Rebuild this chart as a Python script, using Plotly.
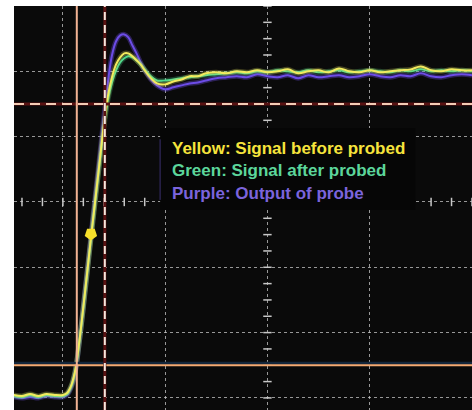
"""Oscilloscope capture: probe loading on a fast step edge (Plotly)."""

import numpy as np
import plotly.graph_objects as go

# time in ns (5 ns / div), amplitude in V (0.2 V / div)
time_ns = [
    -2.4, -2.0, -1.6, -1.2, -0.8, -0.4, 0.0, 0.2, 0.4, 0.6, 0.8, 1.0, 1.2, 1.4,
    1.6, 1.8, 2.0, 2.2, 2.4, 2.6, 2.8, 3.0, 3.2, 3.4, 3.6, 3.8, 4.0, 4.3, 4.6,
    5.0, 5.4, 5.8, 6.2, 6.6, 7.0, 7.5, 8.0, 8.5, 9.0, 9.5, 10.0, 10.5, 11.0,
    11.5, 12.0, 12.5, 13.0, 13.5, 14.0, 14.5, 15.0, 15.5, 16.0, 16.5, 17.0,
    17.5, 18.0, 18.5, 19.0, 19.5, 20.0,
]
before_probed = [  # yellow
    0.009, 0.006, 0.012, 0.006, 0.012, 0.009, 0.009, 0.015, 0.037, 0.083,
    0.171, 0.278, 0.391, 0.505, 0.615, 0.725, 0.835, 0.924, 0.982, 1.021,
    1.043, 1.055, 1.055, 1.046, 1.034, 1.021, 1.003, 0.979, 0.963, 0.960,
    0.969, 0.975, 0.985, 0.985, 0.994, 0.997, 0.994, 1.000, 0.997, 1.003,
    0.997, 1.000, 1.006, 0.994, 1.000, 1.003, 0.997, 1.009, 1.000, 0.997,
    1.003, 0.997, 1.000, 1.003, 1.006, 1.015, 1.003, 1.000, 1.006, 1.003,
    1.003,
]
after_probed = [  # green
    0.006, 0.003, 0.009, 0.003, 0.009, 0.006, 0.006, 0.012, 0.034, 0.080,
    0.168, 0.275, 0.388, 0.502, 0.612, 0.719, 0.826, 0.911, 0.966, 1.003,
    1.027, 1.040, 1.046, 1.043, 1.034, 1.021, 1.006, 0.985, 0.972, 0.972,
    0.975, 0.979, 0.982, 0.985, 0.988, 0.991, 0.994, 0.997, 0.994, 1.000,
    0.997, 1.003, 1.000, 0.997, 1.003, 0.997, 1.000, 1.003, 0.997, 1.000,
    1.003, 1.000, 0.997, 1.003, 1.000, 1.006, 1.000, 1.003, 1.000, 1.003,
    1.000,
]
probe_output = [  # purple
    0.003, 0.000, 0.003, 0.000, 0.006, 0.003, 0.003, 0.009, 0.031, 0.076,
    0.168, 0.281, 0.398, 0.514, 0.630, 0.743, 0.859, 0.966, 1.049, 1.092,
    1.110, 1.113, 1.104, 1.079, 1.055, 1.027, 1.003, 0.975, 0.957, 0.945,
    0.951, 0.957, 0.963, 0.966, 0.972, 0.979, 0.982, 0.985, 0.982, 0.991,
    0.985, 0.982, 0.988, 0.979, 0.988, 0.982, 0.985, 0.988, 0.982, 0.985,
    0.991, 0.985, 0.982, 0.988, 0.985, 0.994, 0.985, 0.982, 0.988, 0.991,
    0.988,
]
trigger_point = (1.37, 0.502)

# rise-time cursors (10 % / 90 %)
level_10, level_90 = 0.1, 0.9
t_10, t_90 = 0.68, 2.05

legend_lines = [
    ("Yellow: Signal before probed", "#f6e43c"),
    ("Green: Signal after probed", "#5cd69b"),
    ("Purple: Output of probe", "#7b64dc"),
]

x_range = [-2.39, 20.0]
y_range = [-0.037, 1.2]

fig = go.Figure()

# centre graticule ticks
h_ticks = np.arange(-2, 20.5, 1.0)
v_ticks = np.arange(0.0, 1.21, 0.05)
fig.add_trace(go.Scatter(
    x=h_ticks, y=[0.6] * len(h_ticks), mode="markers",
    marker=dict(symbol="line-ns", size=6, line=dict(color="#c8c8c8", width=1.5)),
))
fig.add_trace(go.Scatter(
    x=[10.0] * len(v_ticks), y=v_ticks, mode="markers",
    marker=dict(symbol="line-ew", size=6, line=dict(color="#c8c8c8", width=1.5)),
))

# cursors
fig.add_hline(y=level_10 + 0.006, line=dict(color="#13263b", width=3))
fig.add_hline(y=level_10, line=dict(color="#f4aa72", width=2))
fig.add_hline(y=level_90, line=dict(color="#5a1212", width=3))
fig.add_hline(y=level_90, line=dict(color="#f3ccb4", width=2, dash="10px,6px"))
fig.add_vline(x=t_10, line=dict(color="#f2b394", width=2))
fig.add_vline(x=t_90, line=dict(color="#5a1212", width=3))
fig.add_vline(x=t_90, line=dict(color="#f6e6dc", width=2, dash="8px,5px"))

# waveforms
for ys, col, glow in [
    (probe_output, "#6c4ce6", "rgba(108,76,230,0.35)"),
    (after_probed, "#4fd88c", "rgba(79,216,140,0.25)"),
    (before_probed, "#f2ea5e", "rgba(242,234,94,0.25)"),
]:
    fig.add_trace(go.Scatter(x=time_ns, y=ys, mode="lines",
                             line=dict(color=glow, width=5, shape="spline")))
    fig.add_trace(go.Scatter(x=time_ns, y=ys, mode="lines",
                             line=dict(color=col, width=2, shape="spline")))

fig.add_trace(go.Scatter(
    x=[trigger_point[0]], y=[trigger_point[1]], mode="markers",
    marker=dict(symbol="pentagon", size=13, color="#f7e02a", angle=180),
))

# legend box
fig.add_shape(type="rect", xref="paper", yref="paper",
              x0=0.319, x1=0.876, y0=0.495, y1=0.698,
              fillcolor="#060606", line=dict(width=0), layer="above")
fig.add_shape(type="line", xref="paper", yref="paper",
              x0=0.319, x1=0.319, y0=0.52, y1=0.67,
              line=dict(color="#3b2f70", width=1), layer="above")
for i, (txt, col) in enumerate(legend_lines):
    fig.add_annotation(
        xref="paper", yref="paper", x=0.341, y=0.6485 - i * 0.0569,
        text=f"<b>{txt}</b>", showarrow=False, xanchor="left", yanchor="middle",
        font=dict(family="Liberation Sans Narrow, Arial Narrow, Liberation Sans, sans-serif",
                  size=17, color=col),
    )

axis_style = dict(showticklabels=False, zeroline=False, showline=False, ticks="",
                  gridcolor="rgba(200,200,200,0.75)", griddash="dot", gridwidth=1)
fig.update_xaxes(range=x_range, tick0=0, dtick=5, **axis_style)
fig.update_yaxes(range=y_range, tick0=0, dtick=0.2, **axis_style)
fig.update_layout(
    width=472, height=410,
    margin=dict(l=14, r=0, t=6, b=0),
    paper_bgcolor="white",
    plot_bgcolor="#0a0a0a",
    showlegend=False,
    hovermode=False,
)
fig.write_html("out.html", config={"displayModeBar": False},
               post_script="document.body.style.margin='0px';")
